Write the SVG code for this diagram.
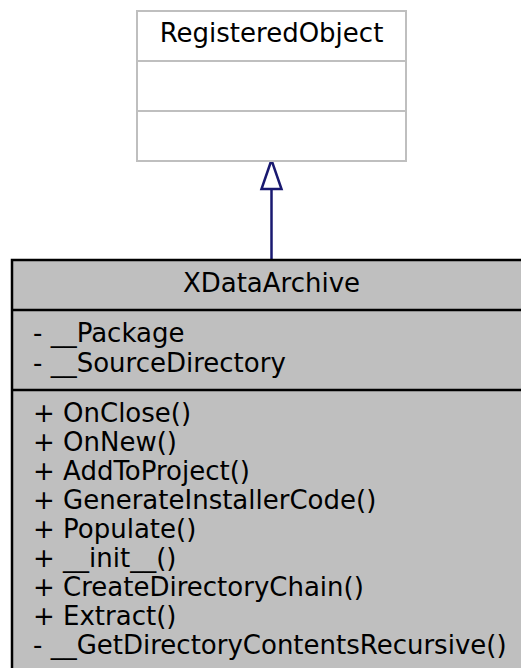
<svg xmlns="http://www.w3.org/2000/svg" width="521" height="668" viewBox="0 0 521 668">
<style>
text{font-family:"DejaVu Sans",sans-serif;font-size:26px;fill:#000}
.c{text-anchor:middle}
.gbox{fill:#fff;stroke:#bfbfbf;stroke-width:2}
.bbox{fill:#bfbfbf;stroke:#000;stroke-width:2.5}
.edge{fill:none;stroke:#191970;stroke-width:2.5}
</style>
<g id="connectors">
<line class="edge" x1="271.5" y1="259" x2="271.5" y2="189"/>
<path d="M271.5,160 L261.5,189 L281.5,189 Z" fill="#fff" stroke="#191970" stroke-width="2.5"/>
</g>
<g id="RegisteredObject">
<rect class="gbox" x="137" y="11" width="269" height="150"/>
<line class="gbox" x1="137" y1="61" x2="406" y2="61"/>
<line class="gbox" x1="137" y1="111" x2="406" y2="111"/>
<text class="c" x="271.5" y="42">RegisteredObject</text>
</g>
<g id="XDataArchive">
<rect class="bbox" x="12" y="260" width="520" height="420"/>
<line class="bbox" x1="12" y1="310" x2="532" y2="310"/>
<line class="bbox" x1="12" y1="390" x2="532" y2="390"/>
<text class="c" x="271.5" y="292">XDataArchive</text>
<text x="33" y="342">- __Package</text>
<text x="33" y="371.5">- __SourceDirectory</text>
<text x="33" y="421.5">+ OnClose()</text>
<text x="33" y="450.5">+ OnNew()</text>
<text x="33" y="479.5">+ AddToProject()</text>
<text x="33" y="508.5">+ GenerateInstallerCode()</text>
<text x="33" y="537.5">+ Populate()</text>
<text x="33" y="566.5">+ __init__()</text>
<text x="33" y="595.5">+ CreateDirectoryChain()</text>
<text x="33" y="624.5">+ Extract()</text>
<text x="33" y="653.5">- __GetDirectoryContentsRecursive()</text>
</g>
</svg>
